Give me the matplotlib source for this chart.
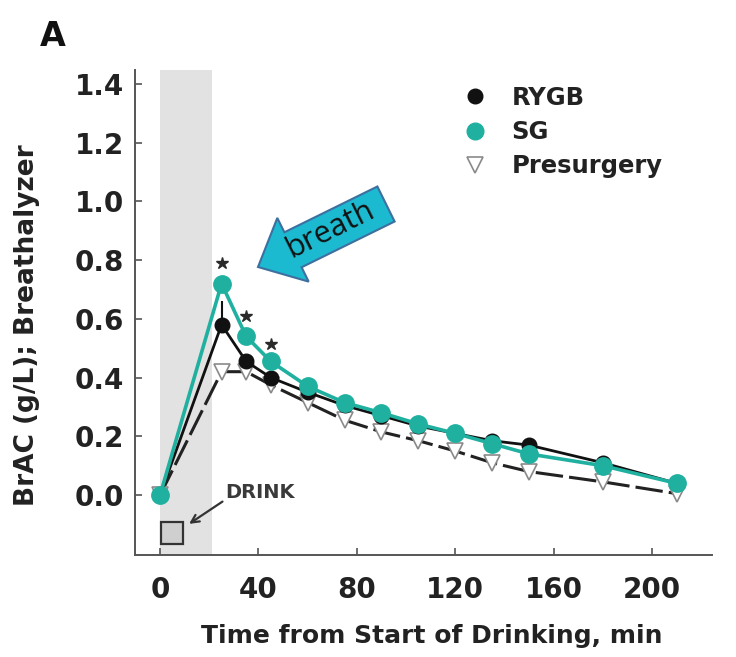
import numpy as np
import matplotlib.pyplot as plt
import matplotlib.transforms as mtransforms
from matplotlib.patches import FancyArrow
from matplotlib.lines import Line2D

W, H = 736, 657

time_min = [0, 25, 35, 45, 60, 75, 90, 105, 120, 135, 150, 180, 210]
sg = [0.0, 0.72, 0.54, 0.455, 0.37, 0.315, 0.28, 0.242, 0.21, 0.175, 0.14, 0.10, 0.04]
rygb = [0.0, 0.58, 0.455, 0.40, 0.35, 0.305, 0.27, 0.235, 0.21, 0.185, 0.17, 0.11, 0.04]
presurgery = [0.0, 0.42, 0.42, 0.375, 0.315, 0.255, 0.215, 0.185, 0.15, 0.11, 0.08, 0.045, 0.005]
rygb_err_up = [0, 0.08, 0, 0, 0, 0, 0, 0, 0, 0, 0, 0, 0]

star_x = [25, 35, 45]
star_y = [0.79, 0.61, 0.515]

drink_span = (0, 21)
drink_box = (4.7, -0.13)

x_ticks = [0, 40, 80, 120, 160, 200]
y_ticks = [0.0, 0.2, 0.4, 0.6, 0.8, 1.0, 1.2, 1.4]

TEAL = "#1fb0a0"
AX_GREY = "#555555"
FONT = "DejaVu Sans"

plt.rcParams["font.family"] = FONT
plt.rcParams["font.weight"] = "bold"

fig = plt.figure(figsize=(W / 100, H / 100), dpi=100)
ax = fig.add_axes([135 / W, 1 - 555 / H, (712 - 135) / W, (555 - 70) / H])

ax.axvspan(*drink_span, color="#e2e2e2", lw=0, zorder=0)

ax.plot(time_min, presurgery, color="#222222", lw=2.2, ls=(0, (9, 2)),
        marker="v", ms=11, mfc="white", mec="#8a8a8a", mew=1.2, zorder=2)
ax.errorbar(time_min, rygb, yerr=[[0] * len(rygb), rygb_err_up], color="#111111",
            lw=2.0, marker="o", ms=10.5, mfc="#111111", mec="#111111",
            elinewidth=1.5, capsize=0, zorder=3)
ax.plot(time_min, sg, color=TEAL, lw=2.6, marker="o", ms=12.5,
        mfc=TEAL, mec=TEAL, zorder=4)
ax.plot(star_x, star_y, ls="none", marker="*", ms=9, color="#2a2a2a", zorder=5)

# drink marker
ax.plot([drink_box[0]], [drink_box[1]], marker="s", ms=16.5, mfc="#cfcfcf",
        mec="#333333", mew=1.6, ls="none", clip_on=False, zorder=5)
ax.annotate("DRINK", xy=(11.8, -0.098), xytext=(26.5, 0.01),
            ha="left", va="center", fontsize=14, color="#3a3a3a",
            fontweight="bold",
            arrowprops=dict(arrowstyle="->", lw=1.6, color="#333333",
                            shrinkA=0, shrinkB=0, relpos=(0, 0.1)))

ax.set_xlim(-10.2, 224.4)
ax.set_ylim(-0.204, 1.447)
ax.set_xticks(x_ticks)
ax.set_yticks(y_ticks)
ax.set_yticklabels([f"{v:.1f}" for v in y_ticks])

for s in ["top", "right"]:
    ax.spines[s].set_visible(False)
for s in ["left", "bottom"]:
    ax.spines[s].set_color(AX_GREY)
    ax.spines[s].set_linewidth(1.4)
ax.tick_params(direction="in", length=5, width=1.2, color=AX_GREY,
               labelsize=20, labelcolor="#222222")
ax.tick_params(axis="x", pad=15)
ax.tick_params(axis="y", pad=8)

ax.set_xlabel("Time from Start of Drinking, min", fontsize=18,
              fontweight="bold", color="#222222")
ax.xaxis.set_label_coords(0.514, -0.142)
ax.set_ylabel("BrAC (g/L); Breathalyzer", fontsize=19,
              fontweight="bold", color="#222222")
ax.yaxis.set_label_coords(-0.165, 0.474)

handles = [
    Line2D([], [], ls="none", marker="o", ms=10.5, mfc="#111111", mec="#111111"),
    Line2D([], [], ls="none", marker="o", ms=12, mfc=TEAL, mec=TEAL),
    Line2D([], [], ls="none", marker="v", ms=11, mfc="white", mec="#8a8a8a", mew=1.2),
]
leg = ax.legend(handles, ["RYGB", "SG", "Presurgery"], loc="upper left",
                bbox_to_anchor=(463 / W, 1 - 86 / H), bbox_transform=fig.transFigure,
                frameon=False, borderpad=0, borderaxespad=0, handlelength=1.0,
                handletextpad=1.0, labelspacing=0.42,
                prop={"family": FONT, "weight": "bold", "size": 17.5})
for t in leg.get_texts():
    t.set_color("#222222")

fig.text(40 / W, 1 - 20 / H, "A", fontsize=24, fontweight="bold",
         ha="left", va="top", color="#111111")

# callout arrow, drawn in image pixels
px = mtransforms.Affine2D().scale(1 / W, 1 / H) + fig.transFigure
arrow = FancyArrow(386, H - 204, 258 - 386, 204 - 267, width=39, head_width=71,
                   head_length=39, length_includes_head=True,
                   facecolor="#1cbad0", edgecolor="#3d6f9f", lw=1.5,
                   transform=px, zorder=10)
fig.add_artist(arrow)
fig.text(330 / W, 1 - 230 / H, "breath", fontsize=22, fontweight="normal",
         family="Open Sans", rotation=26.5, ha="center", va="center",
         rotation_mode="anchor", color="#111111", zorder=11)

fig.savefig("out.png", dpi=100)
